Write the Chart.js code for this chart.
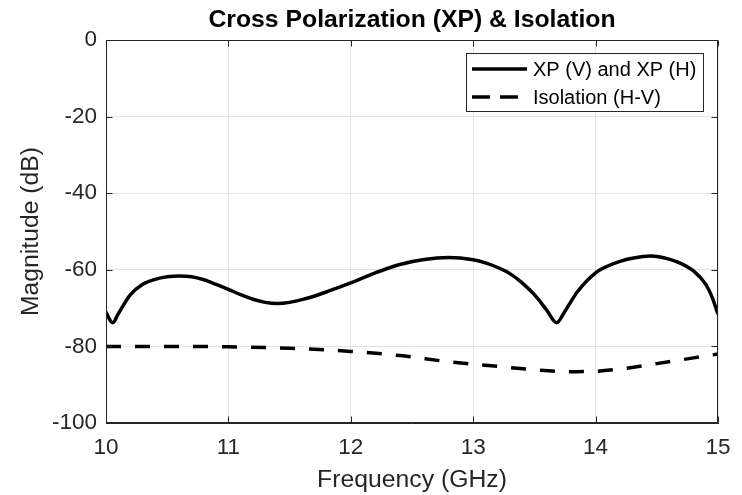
<!DOCTYPE html>
<html lang="en">
<head>
<meta charset="UTF-8">
<title>Cross Polarization (XP) &amp; Isolation</title>
<style>
    html, body { margin: 0; padding: 0; background: #fff; }
    #wrap { width: 742px; height: 495px; }
</style>
<script src="https://cdn.jsdelivr.net/npm/chart.js"></script>
</head>
<body>
<div id="wrap"><canvas id="xpChart" width="742" height="495"></canvas></div>
<script>
    // Values (frequency in GHz, magnitude in dB)
    const xpFreq = [10.0, 10.03, 10.055, 10.1, 10.2, 10.3, 10.4, 10.5, 10.6, 10.7, 10.8, 10.9,
                    11.0, 11.1, 11.2, 11.3, 11.4, 11.5, 11.6, 11.7, 11.8, 11.9, 12.0, 12.2,
                    12.4, 12.6, 12.8, 13.0, 13.1, 13.2, 13.3, 13.4, 13.5, 13.6, 13.68, 13.75,
                    13.85, 14.0, 14.1, 14.2, 14.3, 14.45, 14.6, 14.7, 14.8, 14.9, 14.95, 15.0];
    const xpMag = [-71.0, -73.0, -73.8, -71.5, -66.5, -63.8, -62.5, -61.8, -61.6, -61.8, -62.6, -63.8,
                   -65.1, -66.5, -67.7, -68.5, -68.8, -68.5, -67.8, -66.9, -65.8, -64.6, -63.4, -60.8,
                   -58.6, -57.3, -56.8, -57.4, -58.2, -59.4, -61.0, -63.4, -66.5, -70.5, -73.8, -70.8,
                   -65.8, -60.8, -59.0, -57.8, -57.0, -56.4, -57.2, -58.4, -60.3, -63.8, -67.0, -71.6];
    const isoFreq = [10.0, 10.5, 11.0, 11.5, 12.0, 12.4, 12.8, 13.2, 13.5, 13.8, 14.0, 14.2, 14.5, 14.8, 15.0];
    const isoMag = [-80.0, -80.0, -80.1, -80.5, -81.3, -82.4, -84.0, -85.2, -86.1, -86.6, -86.5, -85.9, -84.5, -83.0, -82.0];
    const freqTicks = [10, 11, 12, 13, 14, 15];
    const magTicks = [-100, -80, -60, -40, -20, 0];
    const seriesLabels = ['XP (V) and XP (H)', 'Isolation (H-V)'];

    const FONT = "'Liberation Sans', Arial, Helvetica, sans-serif";
    const AXIS_COLOR = '#262626';

    // MATLAB style box with inward tick marks on all four sides
    const axesBox = {
        id: 'axesBox',
        afterDraw(chart) {
            const { ctx, chartArea: a, scales: { x, y } } = chart;
            const L = Math.round(a.left) + 0.5, R = Math.round(a.right) - 0.5;
            const T = Math.round(a.top) + 0.5, B = Math.round(a.bottom) - 0.5;
            ctx.save();
            ctx.strokeStyle = AXIS_COLOR;
            ctx.lineWidth = 1;
            ctx.beginPath();
            freqTicks.forEach(v => {
                const px = Math.round(x.getPixelForValue(v)) + 0.5;
                ctx.moveTo(px, B); ctx.lineTo(px, B - 6);
                ctx.moveTo(px, T); ctx.lineTo(px, T + 6);
            });
            magTicks.forEach(v => {
                const py = Math.round(y.getPixelForValue(v)) + 0.5;
                ctx.moveTo(L, py); ctx.lineTo(L + 6, py);
                ctx.moveTo(R, py); ctx.lineTo(R - 6, py);
            });
            ctx.stroke();
            ctx.strokeRect(L, T, R - L, B - T);
            ctx.restore();
        }
    };

    // boxed legend in the top-right corner of the plot area
    const boxLegend = {
        id: 'boxLegend',
        afterDraw(chart) {
            const { ctx, chartArea: a } = chart;
            const sets = chart.data.datasets;
            ctx.save();
            ctx.font = '20px ' + FONT;
            const textW = Math.max(...sets.map(d => ctx.measureText(d.label).width));
            const sample = 55, padL = 6, gap = 6, padR = 7, rowH = 28;
            const w = padL + sample + gap + textW + padR;
            const h = rowH * sets.length + 2;
            const right = Math.round(a.right) - 15, top = Math.round(a.top) + 13;
            const left = right - Math.round(w);
            ctx.fillStyle = '#fff';
            ctx.fillRect(left, top, right - left, h);
            ctx.strokeStyle = AXIS_COLOR;
            ctx.lineWidth = 1;
            ctx.strokeRect(left + 0.5, top + 0.5, right - left, h);
            sets.forEach((d, i) => {
                const cy = top + 16 + i * rowH;
                ctx.strokeStyle = d.borderColor;
                ctx.lineWidth = d.borderWidth;
                ctx.setLineDash(i === 0 ? [] : [18, 10]);
                ctx.beginPath();
                ctx.moveTo(left + padL, cy);
                ctx.lineTo(left + padL + sample, cy);
                ctx.stroke();
                ctx.setLineDash([]);
                ctx.fillStyle = '#000';
                ctx.textBaseline = 'middle';
                ctx.fillText(d.label, left + padL + sample + gap, cy + 1);
            });
            ctx.restore();
        }
    };

    const ctx = document.getElementById('xpChart').getContext('2d');
    new Chart(ctx, {
        type: 'line',
        data: {
            datasets: [
                {
                    label: seriesLabels[0],
                    data: xpFreq.map((f, i) => ({ x: f, y: xpMag[i] })),
                    borderColor: '#000',
                    borderWidth: 3.5,
                    pointRadius: 0,
                    fill: false,
                    cubicInterpolationMode: 'monotone'
                },
                {
                    label: seriesLabels[1],
                    data: isoFreq.map((f, i) => ({ x: f, y: isoMag[i] })),
                    borderColor: '#000',
                    borderWidth: 3.5,
                    borderDash: [15, 14],
                    borderCapStyle: 'butt',
                    pointRadius: 0,
                    fill: false,
                    cubicInterpolationMode: 'monotone'
                }
            ]
        },
        options: {
            responsive: false,
            animation: false,
            layout: { padding: { left: 0, right: 24, top: 0, bottom: 0 } },
            plugins: {
                legend: { display: false },
                tooltip: { enabled: false },
                title: {
                    display: true,
                    fullSize: false, // centre over the plot area, like MATLAB
                    text: 'Cross Polarization (XP) & Isolation',
                    color: '#000',
                    font: { family: FONT, size: 24.75, weight: 'bold', lineHeight: 1.2 },
                    padding: { top: 5.6, bottom: 4.7 }
                }
            },
            scales: {
                x: {
                    type: 'linear',
                    min: 10,
                    max: 15,
                    afterBuildTicks: s => { s.ticks = freqTicks.map(v => ({ value: v })); },
                    afterFit: s => { s.height = 72; },
                    grid: { color: '#e3e3e3', drawTicks: false },
                    border: { color: AXIS_COLOR },
                    ticks: { color: AXIS_COLOR, padding: 11, font: { family: FONT, size: 22.5 } },
                    title: {
                        display: true,
                        text: 'Frequency (GHz)',
                        color: AXIS_COLOR,
                        font: { family: FONT, size: 24.75 },
                        padding: { top: 0, bottom: 0 }
                    }
                },
                y: {
                    min: -100,
                    max: 0,
                    afterBuildTicks: s => { s.ticks = magTicks.map(v => ({ value: v })); },
                    afterFit: s => { s.width = 106; },
                    grid: { color: '#e3e3e3', drawTicks: false },
                    border: { color: AXIS_COLOR },
                    ticks: { color: AXIS_COLOR, padding: 9, font: { family: FONT, size: 22.5 } },
                    title: {
                        display: true,
                        text: 'Magnitude (dB)',
                        color: AXIS_COLOR,
                        font: { family: FONT, size: 24.75 },
                        padding: { top: 16, bottom: 0 }
                    }
                }
            }
        },
        plugins: [axesBox, boxLegend]
    });
</script>
</body>
</html>
